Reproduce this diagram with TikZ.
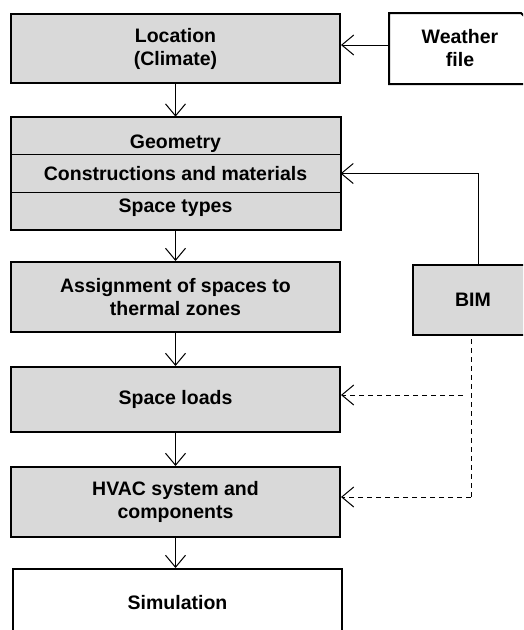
\documentclass[tikz,border=0pt]{standalone}
\usepackage{fontspec}
\setmainfont{Liberation Sans}
\usetikzlibrary{arrows.meta}

\begin{document}
\begin{tikzpicture}[x=1pt,y=-1pt]
	\tikzstyle{stage}=[rectangle,draw=black,line width=2pt,fill=black!15,minimum width=329pt,minimum height=69pt,inner sep=0pt,align=center,font=\bfseries\fontsize{19.5}{23}\selectfont]
	\tikzstyle{part}=[stage,line width=1pt,minimum height=37.7pt]
	\tikzstyle{source}=[stage,fill=white]
	\tikzstyle{flow}=[draw, line width=1pt, -{Straight Barb[length=12pt,width=20pt,line width=1pt]}]
	\tikzstyle{link}=[flow, dash pattern=on 5pt off 4pt]
	\clip (0,0) rectangle (523,630);
	\useasboundingbox (0,0) rectangle (523,630);
	\begin{scope}
		\node [stage] (loc) at (175.5,48.5) {Location\\(Climate)};
		\node [source,draw=none,minimum width=140pt] (weather) at (460,48.5) {Weather\\file};
		\draw [line width=2pt] ([yshift=-10pt]weather.north east) -- ([xshift=-10pt]weather.north east) -| (weather.south west) -- (weather.south east);
		\node [part,text height=28pt,text depth=3pt] (geo) at (175.5,136) {Geometry};
		\node [part,text height=18pt,text depth=4pt] (constr) at (175.5,173.5) {Constructions and materials};
		\node [part,text height=14pt,text depth=12pt] (sptypes) at (175.5,211) {Space types};
		\draw [line width=2pt] (geo.north west) rectangle (sptypes.south east);
		\node [stage,minimum height=70pt] (assign) at (175.5,297) {Assignment of spaces to\\thermal zones};
		\node [stage,minimum height=65pt] (sload) at (175.5,399.5) {Space loads};
		\node [stage,minimum height=70pt] (hvac) at (175.5,502) {HVAC system and\\components};
		\node [source,minimum height=67pt] (sim) at (177.5,602.5) {Simulation};
		\node [stage,draw=none,minimum width=118pt,minimum height=68pt] (bim) at (473,300) {BIM};
		\draw [line width=2pt] (bim.north east) -| (bim.south west) -- (bim.south east);
		\coordinate (tap) at (463,395);
		\coordinate (busend) at (471,497);
		\path[flow] ([yshift=3.5pt]weather.west) -- ([yshift=3.5pt]loc.east);
		\path[flow] (loc) -- (geo);
		\path[flow] (sptypes) -- (assign);
		\path[flow] (assign) -- (sload);
		\path[flow] (sload) -- (hvac);
		\path[flow] (hvac) -- ([xshift=-2pt]sim.north);
		\path[flow] ([xshift=5pt]bim.north) |- (constr.east);
		\draw [line width=1pt, dash pattern=on 5pt off 4pt] ([xshift=-2pt,yshift=-4pt]bim.south) -- (busend);
		\path[link] (busend) -- (busend -| hvac.east);
		\path[link] (tap) -- (tap -| sload.east);
	\end{scope}
\end{tikzpicture}
\end{document}
